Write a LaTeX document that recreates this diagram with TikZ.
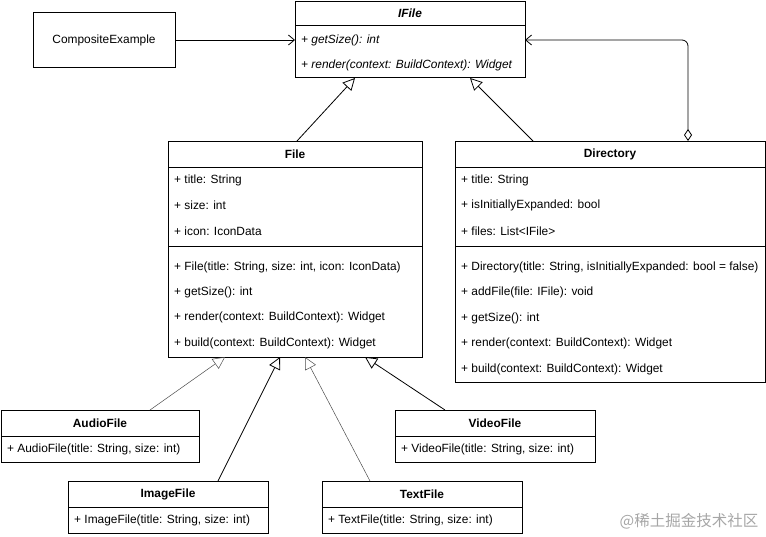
\documentclass[tikz,border=0pt]{standalone}
\usepackage{fontspec}
\setmainfont{Liberation Sans}
\newfontfamily\cjk{Noto Sans CJK SC}
\usetikzlibrary{arrows.meta}
\begin{document}
\begin{tikzpicture}[x=1pt,y=-1pt,font=\fontsize{11.9}{14}\selectfont,
 box/.style={draw,line width=0.8pt,fill=white},
 txt/.style={anchor=west,inner sep=0},
 ttl/.style={inner sep=0,font=\fontsize{11.9}{14}\selectfont\bfseries},
 inh/.style={line width=0.8pt,-{Triangle[open,length=12pt,width=12pt]}},
 inhg/.style={line width=0.5pt,draw=black!70,-{Triangle[open,length=12pt,width=12pt]}},
 dep/.style={line width=0.8pt,-{Straight Barb[length=6pt,width=10pt]}}]
\useasboundingbox (0,0) rectangle (766,536);
% CompositeExample
\draw[box] (33,12) rectangle (175,67);
\node[inner sep=0] (ce) at (104,40) {CompositeExample};
\coordinate (ceR) at (175,40);
% IFile
\draw[box] (295,1) rectangle (525,77);
\draw[line width=0.8pt] (295,25)--(525,25);
\node[ttl,font=\fontsize{11.9}{14}\selectfont\bfseries\itshape] (ifile) at (410,13) {IFile};
\node[txt,font=\fontsize{11.9}{14}\selectfont\itshape] at (301,40) {+ getSize(): int};
\node[txt,font=\fontsize{11.9}{14}\selectfont\itshape] at (301,65) {+ render(context: BuildContext): Widget};
\coordinate (ifL) at (295,40);
\coordinate (ifR) at (525,40);
\coordinate (ifB1) at (355,78);
\coordinate (ifB2) at (470,78);
% File
\draw[box] (168,141) rectangle (422,357);
\draw[line width=0.8pt] (168,167)--(422,167) (168,246)--(422,246);
\node[ttl] (file) at (295,154) {File};
\node[txt] at (174,180) {+ title: String};
\node[txt] at (174,205) {+ size: int};
\node[txt] at (174,231) {+ icon: IconData};
\node[txt] at (174,267) {+ File(title: String, size: int, icon: IconData)};
\node[txt] at (174,292) {+ getSize(): int};
\node[txt] at (174,317) {+ render(context: BuildContext): Widget};
\node[txt] at (174,343) {+ build(context: BuildContext): Widget};
\coordinate (fT) at (297,141);
% Directory
\draw[box] (455,141) rectangle (765.5,382);
\draw[line width=0.8pt] (455,167)--(765.5,167) (455,246)--(765.5,246);
\node[ttl] (dir) at (610,154) {Directory};
\node[txt] at (461,180) {+ title: String};
\node[txt] at (461,205) {+ isInitiallyExpanded: bool};
\node[txt] at (461,231) {+ files: List<IFile>};
\node[txt] at (461,267) {+ Directory(title: String, isInitiallyExpanded: bool = false)};
\node[txt] at (461,292) {+ addFile(file: IFile): void};
\node[txt] at (461,318) {+ getSize(): int};
\node[txt] at (461,343) {+ render(context: BuildContext): Widget};
\node[txt] at (461,369) {+ build(context: BuildContext): Widget};
\coordinate (dT) at (533,141);
\coordinate (dD) at (688,141);
% subclasses
\foreach \n/\t/\x/\y/\w in {audio/AudioFile/1/410/198, video/VideoFile/395/410/200, image/ImageFile/68/481/200, text/TextFile/322/481/200}{
 \draw[box] (\x,\y) rectangle ++(\w,52);
 \draw[line width=0.8pt] (\x,\y+26)--++(\w,0);
 \node[ttl] (\n) at (\x+\w/2,\y+13) {\t};
 \node[txt] at (\x+6,\y+39) {+ \t(title: String, size: int)};
}
\coordinate (aT) at (150,410);
\coordinate (vT) at (445,410);
\coordinate (iT) at (218,481);
\coordinate (tT) at (370,481);
\coordinate (fb1) at (225,357);
\coordinate (fb2) at (280,357);
\coordinate (fb3) at (305,357);
\coordinate (fb4) at (365,357);
% connectors
\draw[dep] (ceR) -- (ifL);
\draw[inh] (fT) -- (ifB1);
\draw[inh] (dT) -- (ifB2);
\draw[dep,{Diamond[open,length=12pt,width=8pt]}-{Straight Barb[length=6pt,width=10pt]},rounded corners=6pt] (dD) -- (688,40) -- (ifR);
\draw[inhg] (aT) -- (fb1);
\draw[inh] (iT) -- (fb2);
\draw[inhg] (tT) -- (fb3);
\draw[inh] (vT) -- (fb4);
\node[inner sep=0,text=black!35,font=\cjk\fontsize{15.5}{18}\selectfont] (wm) at (689,521) {@稀土掘金技术社区};
\end{tikzpicture}
\end{document}
